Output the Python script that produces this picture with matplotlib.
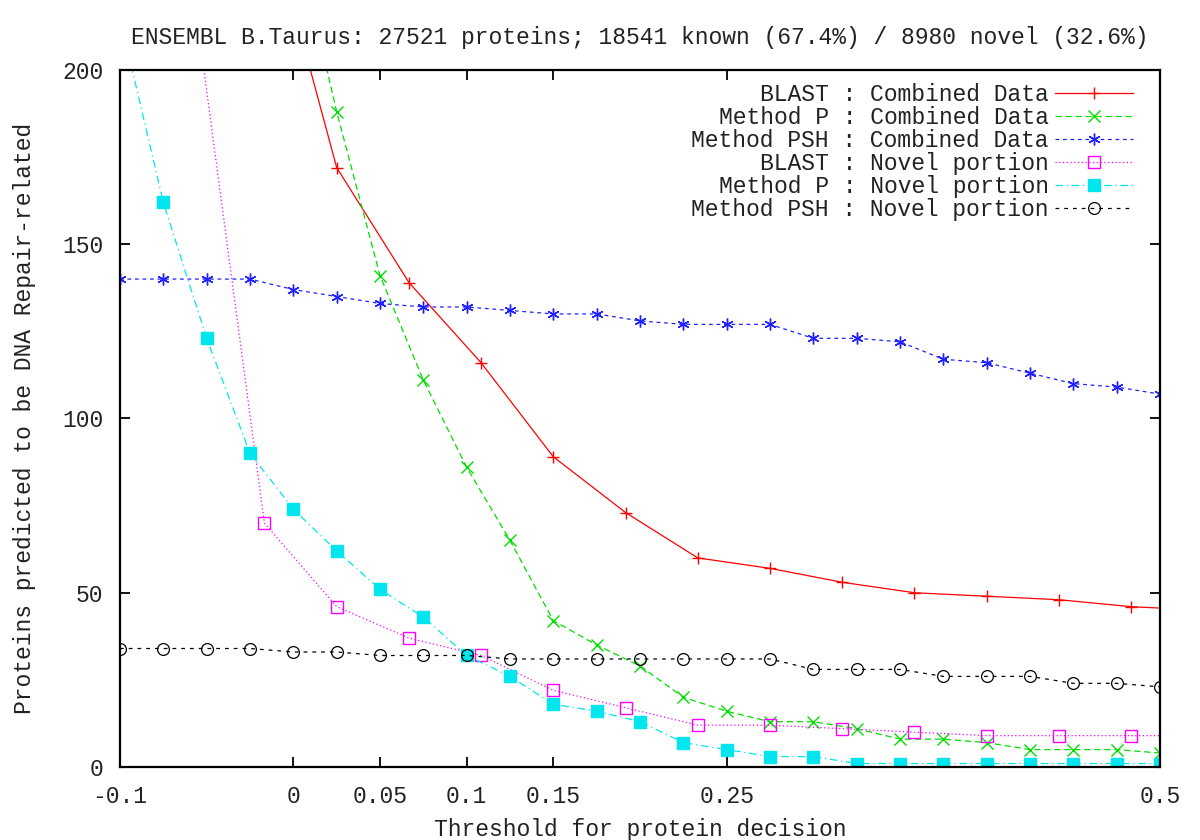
#!/usr/bin/env python3
"""Gnuplot-style threshold curves for DNA-repair protein prediction (ENSEMBL B.Taurus)."""
import numpy as np
import matplotlib

matplotlib.use("Agg")
import matplotlib.pyplot as plt

nan = np.nan

# Regular threshold grid used by Method P / Method PSH
thresholds = [-0.1, -0.075, -0.05, -0.025, 0.0, 0.025, 0.05, 0.075, 0.1, 0.125,
              0.15, 0.175, 0.2, 0.225, 0.25, 0.275, 0.3, 0.325, 0.35, 0.375,
              0.4, 0.425, 0.45, 0.475, 0.5]
# BLAST points sit on their own grid
blast_x = [-0.0583, -0.0167, 0.025, 0.0667, 0.1083, 0.15, 0.1917, 0.2333, 0.275,
           0.3167, 0.3583, 0.4, 0.4417, 0.4833, 0.525]

blast_combined = [nan, 249, 172, 139, 116, 89, 73, 60, 57, 53, 50, 49, 48, 46, 45]
blast_novel = [225, 70, 46, 37, 32, 22, 17, 12, 12, 11, 10, 9, 9, 9, 9]
p_combined = [nan, nan, nan, nan, 242, 188, 141, 111, 86, 65, 42, 35, 29, 20, 16,
              13, 13, 11, 8, 8, 7, 5, 5, 5, 4]
p_novel = [215, 162, 123, 90, 74, 62, 51, 43, 32, 26, 18, 16, 13, 7, 5, 3, 3,
           1, 1, 1, 1, 1, 1, 1, 1]
psh_combined = [140, 140, 140, 140, 137, 135, 133, 132, 132, 131, 130, 130, 128,
                127, 127, 127, 123, 123, 122, 117, 116, 113, 110, 109, 107]
psh_novel = [34, 34, 34, 34, 33, 33, 32, 32, 32, 31, 31, 31, 31, 31, 31, 31, 28,
             28, 28, 26, 26, 26, 24, 24, 23]

xticks = [-0.1, 0, 0.05, 0.1, 0.15, 0.25, 0.5]
xticklabels = ["-0.1", "0", "0.05", "0.1", "0.15", "0.25", "0.5"]
yticks = [0, 50, 100, 150, 200]

plt.rcParams["font.family"] = ["Liberation Mono", "DejaVu Sans Mono"]
FS = 16.6
INK = "#222222"

fig = plt.figure(figsize=(12, 8.4), dpi=100)
ax = fig.add_axes([0.1, 0.0869, 0.8667, 0.8298])

series = [
    (blast_x, blast_combined, "BLAST : Combined Data", dict(
        color="#ff0000", ls="-", marker="+", ms=8, mew=1.0)),
    (thresholds, p_combined, "Method P : Combined Data", dict(
        color="#00dd00", ls=(0, (5, 3)), marker="x", ms=8, mew=1.0)),
    (thresholds, psh_combined, "Method PSH : Combined Data", dict(
        color="#2020ff", ls=(0, (3, 3)), marker=(6, 2, 0), ms=8.5, mew=1.0)),
    (blast_x, blast_novel, "BLAST : Novel portion", dict(
        color="#ff00ff", ls=(0, (1, 2)), marker="s", ms=8, mfc="none", mew=1.0)),
    (thresholds, p_novel, "Method P : Novel portion", dict(
        color="#00e5ee", ls=(0, (6, 3, 1, 3)), marker="s", ms=8, mew=1.0)),
    (thresholds, psh_novel, "Method PSH : Novel portion", dict(
        color="#000000", ls=(0, (3, 4)), marker="o", ms=8.5, mfc="none", mew=0.9)),
]

for xs, ys, label, st in series:
    ax.plot(xs, ys, lw=0.9, label=label, **st)

ax.set_xlim(-0.1, 0.5)
ax.set_ylim(0, 200)
ax.set_xticks(xticks)
ax.set_xticklabels(xticklabels)
ax.set_yticks(yticks)
ax.tick_params(axis="both", direction="in", length=7, width=1.3, labelsize=FS,
               top=True, right=True, colors="#000000", labelcolor=INK)
ax.tick_params(axis="x", pad=13)
ax.tick_params(axis="y", pad=12)
for sp in ax.spines.values():
    sp.set_linewidth(1.6)

ax.set_xlabel("Threshold for protein decision", fontsize=FS, color=INK,
              labelpad=7)
ax.set_ylabel("Proteins predicted to be DNA Repair-related", fontsize=FS,
              color=INK, labelpad=19)
ax.set_title("ENSEMBL B.Taurus: 27521 proteins; 18541 known (67.4%) / 8980 novel (32.6%)",
             fontsize=FS, color=INK, pad=19)

leg = ax.legend(loc="upper right", bbox_to_anchor=(0.974, 0.981), frameon=False,
                markerfirst=False, fontsize=FS, handlelength=3.4,
                handletextpad=0.25, labelspacing=0.0, borderpad=0,
                borderaxespad=0)
for t in leg.get_texts():
    t.set_color(INK)

fig.savefig("out.png", dpi=100, facecolor="white")
